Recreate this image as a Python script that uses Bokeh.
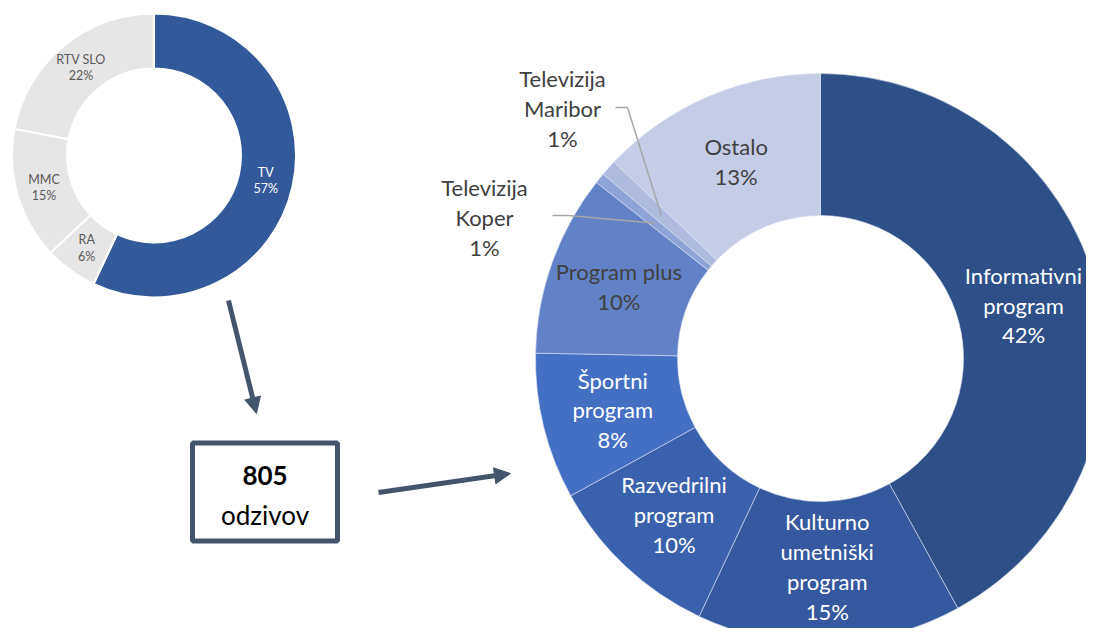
import math
from bokeh.plotting import figure
from bokeh.models import Range1d, Arrow, NormalHead
from bokeh.core.properties import value
from bokeh.embed import file_html
from bokeh.resources import INLINE

# ---------------- data ----------------
small_cats = ["TV", "RA", "MMC", "RTV SLO"]
small_vals = [57, 6, 15, 22]
small_colors = ["#325A9A", "#E6E6E6", "#E6E6E6", "#E6E6E6"]
small_text_colors = ["#FFFFFF", "#595959", "#595959", "#595959"]

big_cats = ["Informativni\nprogram", "Kulturno\numetniški\nprogram", "Razvedrilni\nprogram",
            "Športni\nprogram", "Program plus", "Televizija\nKoper", "Televizija\nMaribor", "Ostalo"]
big_vals = [42.0, 15.0, 10.0, 8.3, 10.3, 0.6, 0.9, 12.9]
big_colors = ["#2E5089", "#35599E", "#3A62AC", "#4470C4", "#6282C8", "#8FA3D8", "#AEBBDF", "#C5CDE6"]
big_text_colors = ["#FFFFFF", "#FFFFFF", "#FFFFFF", "#FFFFFF", "#404040", "#404040", "#404040", "#404040"]

total_responses = 805
total_label = "odzivov"

W, H = 1086, 628
FONT = "Lato"

p = figure(width=W, height=H, output_backend="svg", toolbar_location=None,
           x_range=Range1d(0, W), y_range=Range1d(0, H), min_border=0)
p.axis.visible = False
p.grid.visible = False
p.outline_line_color = None
p.background_fill_color = "white"
p.border_fill_color = "white"


def Y(sy):
    return H - sy


def donut(cx, cy, r_in, r_out, vals, colors, sep_color, sep_w):
    tot = sum(vals)
    cum = 0.0
    starts, ends, mids = [], [], []
    for v in vals:
        a0 = cum / tot
        cum += v
        a1 = cum / tot
        starts.append(math.pi / 2 - 2 * math.pi * a1)
        ends.append(math.pi / 2 - 2 * math.pi * a0)
        mids.append(math.pi / 2 - 2 * math.pi * (a0 + a1) / 2)
    p.annular_wedge(x=[cx] * len(vals), y=[cy] * len(vals), inner_radius=r_in, outer_radius=r_out,
                    start_angle=starts, end_angle=ends, fill_color=colors,
                    line_color=sep_color, line_width=sep_w)
    return mids


# ---------------- small donut ----------------
scx, scy, sr_in, sr_out = 153.5, Y(155), 87, 142
smids = donut(scx, scy, sr_in, sr_out, small_vals, small_colors, "white", 2)
smr = (sr_in + sr_out) / 2
for cat, v, m, tc in zip(small_cats, small_vals, smids, small_text_colors):
    p.text(x=[scx + smr * math.cos(m)], y=[scy + smr * math.sin(m)], text=[f"{cat}\n{v}%"],
           text_font=value(FONT), text_font_size="12.5px", text_color=tc,
           text_align="center", text_baseline="middle", text_line_height=1.1)

# ---------------- big donut ----------------
bcx, bcy, br_in, br_out = 820, Y(358), 143, 285
bmids = donut(bcx, bcy, br_in, br_out, big_vals, big_colors, "#DCE3F2", 0.6)
bmr = (br_in + br_out) / 2
outside = {5: (484, 217, 552, 568, 215), 6: (562, 108, 615, 627, 107)}
LINE_PX = 29.5
for i, (cat, v, m, tc) in enumerate(zip(big_cats, big_vals, bmids, big_text_colors)):
    txt = f"{cat}\n{round(v) if round(v) > 0 else 1}%"
    px, py = bcx + bmr * math.cos(m), bcy + bmr * math.sin(m)
    if i in outside:
        lx, ly, e0, e1, ey = outside[i]
        p.line(x=[e0, e1, px], y=[Y(ey), Y(ey), py], line_color="#A6A6A6", line_width=1.5)
        px, py = lx, Y(ly)
    # keep label blocks inside the canvas
    nlines = txt.count("\n") + 1
    half_w = max(len(s) for s in txt.split("\n")) * 5.0
    px = min(px, W - 3 - half_w)
    py = max(py, 3 + nlines * LINE_PX / 2)
    p.text(x=[px], y=[py], text=[txt], text_font=value(FONT), text_font_size="22px",
           text_color=tc, text_align="center", text_baseline="middle", text_line_height=1.1)

# ---------------- box and arrows ----------------
AC = "#44546A"
p.rect(x=[264.5], y=[Y(491.5)], width=145, height=98, fill_color="white", line_color=AC, line_width=5)
p.text(x=[264.5], y=[Y(475)], text=[str(total_responses)], text_font=value(FONT), text_font_size="26px",
       text_font_style="bold", text_color="black", text_align="center", text_baseline="middle")
p.text(x=[264.5], y=[Y(514)], text=[total_label], text_font=value(FONT), text_font_size="26px",
       text_color="black", text_align="center", text_baseline="middle")

p.add_layout(Arrow(end=NormalHead(size=16, fill_color=AC, line_color=AC), line_color=AC, line_width=5,
                   x_start=228, y_start=Y(300), x_end=256, y_end=Y(413)))
p.add_layout(Arrow(end=NormalHead(size=16, fill_color=AC, line_color=AC), line_color=AC, line_width=5,
                   x_start=378, y_start=Y(492), x_end=510, y_end=Y(473)))

open("out.html", "w").write(file_html(p, INLINE))
